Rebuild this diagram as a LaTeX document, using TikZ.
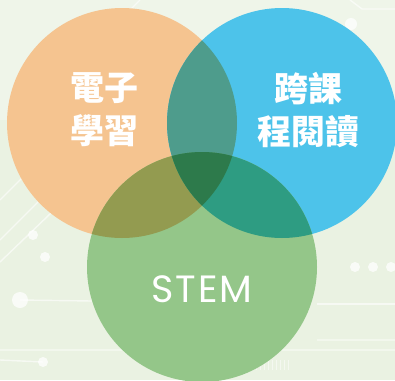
\documentclass[tikz,border=0pt]{standalone}
\usepackage{fontspec}
\newfontfamily\cjkfont{Noto Sans CJK TC}
\newfontfamily\stemfont{Poppins}[LetterSpace=5]
\definecolor{bgc}{HTML}{EAF2E2}
\definecolor{orc}{HTML}{F5C490}
\definecolor{blc}{HTML}{4DC3EA}
\definecolor{grc}{HTML}{94C689}
\definecolor{obc}{HTML}{4E9C8C}
\definecolor{ogc}{HTML}{939B50}
\definecolor{bgrc}{HTML}{2E9C82}
\definecolor{allc}{HTML}{2D7A4B}
\tikzset{
  wire/.style={draw=white, line width=1.4pt, opacity=0.6},
  dot/.style={fill=white, opacity=0.75},
  label/.style={text=white, align=center, inner sep=0pt},
}
\begin{document}
\begin{tikzpicture}[x=1pt,y=-1pt]
\useasboundingbox (0,0) rectangle (395,380);
\clip (0,0) rectangle (395,380);
\fill[bgc] (0,0) rectangle (395,380);
\fill[white, opacity=0.25] (0,0) rectangle (395,120);
% background circuit decorations
\draw[wire] (350,0) -- (362,9) -- (395,9);
\draw[wire] (140,0) -- (128,12);
\draw[wire] (0,240) -- (60,180);
\draw[wire] (0,262) -- (75,190);
\draw[wire] (0,200) -- (30,170);
\draw[wire] (20,300) -- (92,301);
\draw[wire] (0,360) -- (43,362);
\draw[wire] (317,304) -- (395,304);
\draw[wire, opacity=0.4] (317,340) -- (395,340);
\draw[wire, opacity=0.4] (0,350) -- (395,350);
\fill[dot] (351,24) circle (6);
\fill[dot] (33,235) circle (5);
\fill[dot] (45,257) circle (5);
\fill[dot] (20,300) circle (8);
\fill[dot] (43,362) circle (5);
\fill[dot] (355,267) circle (5);
\fill[dot] (373,267) circle (5);
\fill[dot] (391,267) circle (5);
\foreach \x in {200,204,...,290} \draw[white, opacity=0.5, line width=1pt] (\x,360) -- (\x,370);
% circles
\fill[orc] (122,123) circle (115);
\fill[blc] (282,123) circle (115);
\fill[grc] (202,267) circle (115);
\begin{scope}\clip (122,123) circle (115); \fill[obc] (282,123) circle (115); \end{scope}
\begin{scope}\clip (122,123) circle (115); \fill[ogc] (202,267) circle (115); \end{scope}
\begin{scope}\clip (282,123) circle (115); \fill[bgrc] (202,267) circle (115); \end{scope}
\begin{scope}\clip (122,123) circle (115); \clip (282,123) circle (115); \fill[allc] (202,267) circle (115); \end{scope}
% labels
\node[label, font=\cjkfont\bfseries\fontsize{34}{43}\selectfont] (el) at (104,110) {電子\\學習};
\node[label, font=\cjkfont\bfseries\fontsize{34}{43}\selectfont] (rd) at (308,110) {跨課\\程閱讀};
\node[label, font=\stemfont\fontsize{38}{40}\selectfont] (st) at (202,289) {STEM};
\end{tikzpicture}
\end{document}
